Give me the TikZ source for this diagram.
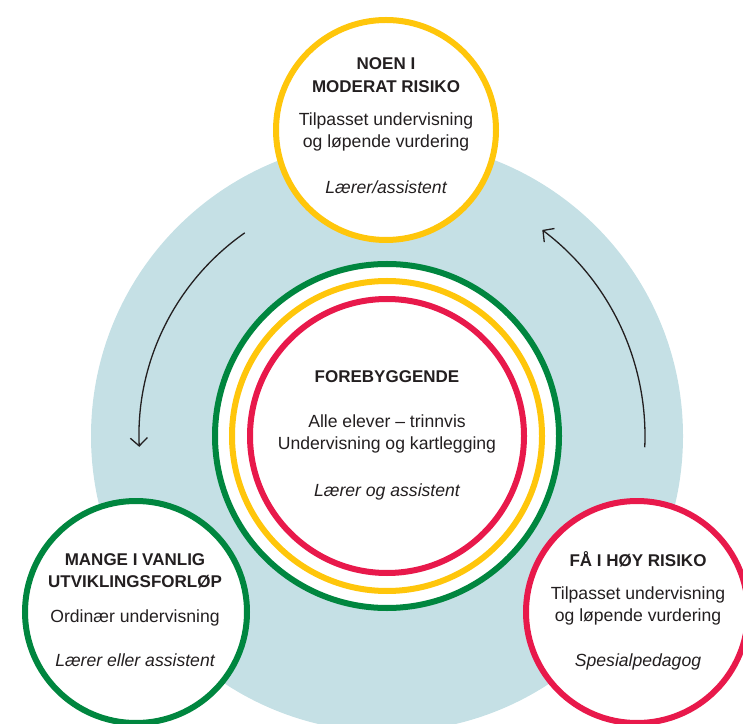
\documentclass[tikz,border=0pt]{standalone}
\usepackage{fontspec}
\setmainfont{Liberation Sans}
\usetikzlibrary{arrows.meta,calc}
\definecolor{lyseblaa}{HTML}{C5E0E5}
\definecolor{gul}{HTML}{FFC60B}
\definecolor{gronn}{HTML}{00863F}
\definecolor{rod}{HTML}{E8194B}
\definecolor{tekst}{HTML}{231F20}

\begin{document}
\begin{tikzpicture}[x=1pt,y=1pt,
	sirkel/.style={circle,draw,line width=6pt,fill=white,minimum size=#1,inner sep=0pt},
	tittel/.style={anchor=base,text=tekst,font=\fontsize{17}{20}\selectfont\bfseries},
	brod/.style={anchor=base,text=tekst,font=\fontsize{17.6}{20}\selectfont},
	rolle/.style={anchor=base,text=tekst,font=\fontsize{17.6}{20}\selectfont\itshape},
	pil/.style={line width=1.3pt,draw=tekst,-{Straight Barb[length=8pt,width=17pt]}}]
\useasboundingbox (0,0) rectangle (743,723);
\clip (0,0) rectangle (743,723);
\coordinate (midt) at (387,287);
\fill[lyseblaa] (midt) circle (296);
\node[sirkel=344,draw=gronn] (ring1) at (midt) {};
\node[sirkel=310,draw=gul] (ring2) at (midt) {};
\node[sirkel=274,draw=rod] (ring3) at (midt) {};
\node[sirkel=220,draw=gul] (noen) at (386,593) {};
\node[sirkel=222,draw=gronn] (mange) at (136,111) {};
\node[sirkel=222,draw=rod] (faa) at (637,111) {};

\node[tittel] (noen1) at (386,653) {NOEN I};
\node[tittel] (noen2) at (386,630) {MODERAT RISIKO};
\node[brod] (noen3) at (386,597) {Tilpasset undervisning};
\node[brod] (noen4) at (386,575) {og løpende vurdering};
\node[rolle] (noen5) at (386,529) {Lærer/assistent};

\node[tittel] (fore1) at (387,340) {FOREBYGGENDE};
\node[brod] (fore2) at (387,295) {Alle elever – trinnvis};
\node[brod] (fore3) at (387,273) {Undervisning og kartlegging};
\node[rolle] (fore4) at (387,227) {Lærer og assistent};

\node[tittel] (mange1) at (135,158) {MANGE I VANLIG};
\node[tittel] (mange2) at (135,136) {UTVIKLINGSFORLØP};
\node[brod] (mange3) at (135,101) {Ordinær undervisning};
\node[rolle] (mange4) at (135,57) {Lærer eller assistent};

\node[tittel] (faa1) at (638,157) {FÅ I HØY RISIKO};
\node[brod] (faa2) at (638,124) {Tilpasset undervisning};
\node[brod] (faa3) at (638,102) {og løpende vurdering};
\node[rolle] (faa4) at (638,57) {Spesialpedagog};

\coordinate (pilV) at ($(midt)+(125:248)$);
\coordinate (pilH) at ($(midt)+(-2.5:258)$);
\draw[pil] (pilV) arc[start angle=125,end angle=182.5,radius=248];
\draw[pil] (pilH) arc[start angle=-2.5,end angle=53,radius=258];
\end{tikzpicture}
\end{document}
